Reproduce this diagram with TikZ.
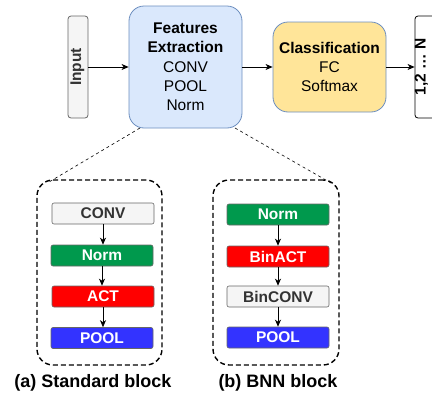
\documentclass[tikz,border=0pt]{standalone}
\usepackage{fontspec}
\setmainfont{Liberation Sans}
\usetikzlibrary{arrows.meta}
\definecolor{bluefill}{HTML}{DAE8FC}
\definecolor{bluestroke}{HTML}{6C8EBF}
\definecolor{yellowfill}{HTML}{FFE599}
\definecolor{grayfill}{HTML}{F5F5F5}
\definecolor{graystroke}{HTML}{666666}
\definecolor{graytext}{HTML}{333333}
\definecolor{normgreen}{HTML}{00994D}
\definecolor{actred}{HTML}{FF0000}
\definecolor{poolblue}{HTML}{3333FF}
\tikzset{
  main/.style={draw=bluestroke, line width=0.8pt, rounded corners=15pt, inner sep=0pt, align=center,
    font=\fontsize{15.5}{19.3}\selectfont},
  slim/.style={draw=graystroke, fill=grayfill, line width=0.8pt, rounded corners=3pt, inner sep=0pt,
    minimum width=20pt, minimum height=102pt},
  blk/.style={draw=graystroke, line width=0.6pt, rounded corners=2pt, inner sep=0pt,
    minimum width=102pt, minimum height=21pt, text=white, font=\fontsize{15.5}{18}\selectfont\bfseries},
  container/.style={draw=black, line width=1.4pt, dash pattern=on 5pt off 3pt, rounded corners=16pt},
  arr/.style={-{Stealth[length=7pt,width=6pt,inset=2pt]}, line width=0.8pt},
  varr/.style={-{Stealth[length=7pt,width=6pt,inset=2pt]}, line width=0.8pt},
  zoomline/.style={draw=black, line width=0.6pt, dash pattern=on 3pt off 3pt},
  caption/.style={font=\fontsize{18}{21}\selectfont\bfseries, inner sep=0pt}
}
\begin{document}
\begin{tikzpicture}[x=1pt,y=-1pt]
\useasboundingbox (0,0) rectangle (432,394);
\clip (0,0) rectangle (432,394);
% top row
\node[slim] (inp) at (78,67) {};
\node[rotate=90, text=graytext, font=\fontsize{15.5}{18}\selectfont\bfseries] (inptxt) at (77.5,67) {Input};
\node[main, fill=bluefill, minimum width=113pt, minimum height=122pt] (feat) at (185.5,67)
  {\textbf{Features}\\\textbf{Extraction}\\CONV\\POOL\\Norm};
\node[main, fill=yellowfill, minimum width=113pt, minimum height=90pt] (cls) at (329.5,67)
  {\textbf{Classification}\\FC\\Softmax};
\node[slim, fill=white, draw=black, minimum width=24pt] (out) at (427,67) {};
\node[rotate=90, font=\fontsize{15.5}{18}\selectfont\bfseries] (outtxt) at (421.5,67) {1,2 … N};
\draw[arr] (inp.east) -- (feat.west);
\draw[arr] (feat.east) -- (cls.west);
\draw[arr] (cls.east) -- (out.west);
% containers
\node[container, minimum width=125pt, minimum height=185pt, inner sep=0pt] (boxa) at (99.5,272.5) {};
\node[container, minimum width=126pt, minimum height=185pt, inner sep=0pt] (boxb) at (276,272.5) {};
\coordinate (fl) at (140,128);
\coordinate (fr) at (235,128);
\coordinate (al) at (49,182);
\coordinate (br) at (331,183);
\draw[zoomline] (fl) -- (al);
\draw[zoomline] (fr) -- (br);
% standard block
\node[blk, fill=grayfill, text=graytext] (a1) at (103,213.5) {CONV};
\node[blk, fill=normgreen] (a2) at (102,255.5) {Norm};
\node[blk, fill=actred] (a3) at (103,296.5) {ACT};
\node[blk, fill=poolblue] (a4) at (102,338) {POOL};
\draw[varr] (a1.south) -- (a1.south |- a2.north);
\draw[varr] (a2.south) -- (a2.south |- a3.north);
\draw[varr] (a3.south) -- (a3.south |- a4.north);
% BNN block
\node[blk, fill=normgreen] (b1) at (278,214.5) {Norm};
\node[blk, fill=actred] (b2) at (278,256.5) {BinACT};
\node[blk, fill=grayfill, text=graytext] (b3) at (278,296.5) {BinCONV};
\node[blk, fill=poolblue] (b4) at (278,337.5) {POOL};
\draw[varr] (b1.south) -- (b2.north);
\draw[varr] (b2.south) -- (b3.north);
\draw[varr] (b3.south) -- (b4.north);
% captions
\node[caption] (capa) at (93,383) {(a) Standard block};
\node[caption] (capb) at (278,383) {(b) BNN block};
\end{tikzpicture}
\end{document}
